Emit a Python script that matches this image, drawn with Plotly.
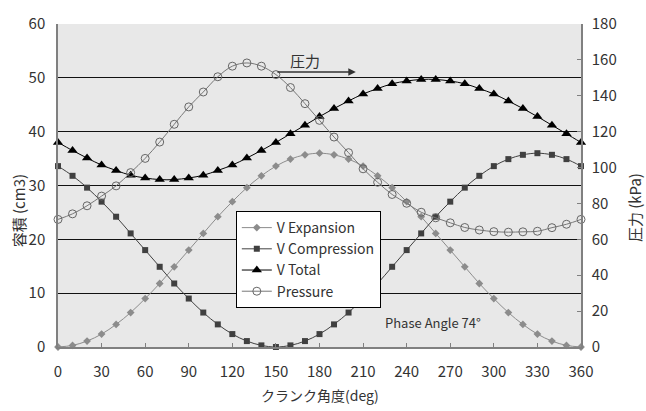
import plotly.graph_objects as go

# Crank angle in degrees, sampled every 10 degrees
crank_deg = list(range(0, 361, 10))

# Expansion-space volume [cm3]
v_expansion = [0.0, 0.3, 1.1, 2.4, 4.2, 6.4, 9.0, 11.8, 14.9, 18.0,
               21.1, 24.2, 27.0, 29.6, 31.8, 33.6, 34.9, 35.7, 36.0, 35.7,
               34.9, 33.6, 31.8, 29.6, 27.0, 24.2, 21.1, 18.0, 14.9, 11.8,
               9.0, 6.4, 4.2, 2.4, 1.1, 0.3, 0.0]

# Compression-space volume [cm3]
v_compression = [33.6, 31.8, 29.6, 27.0, 24.2, 21.1, 18.0, 14.9, 11.8, 9.0,
                 6.4, 4.2, 2.4, 1.1, 0.3, 0.0, 0.3, 1.1, 2.4, 4.2,
                 6.4, 9.0, 11.8, 14.9, 18.0, 21.1, 24.2, 27.0, 29.6, 31.8,
                 33.6, 34.9, 35.7, 36.0, 35.7, 34.9, 33.6]

# Total working volume [cm3]
v_total = [38.0, 36.5, 35.1, 33.8, 32.8, 31.9, 31.4, 31.1, 31.1, 31.4,
           31.9, 32.8, 33.8, 35.1, 36.5, 38.0, 39.6, 41.2, 42.8, 44.3,
           45.7, 47.0, 48.0, 48.9, 49.4, 49.7, 49.7, 49.4, 48.9, 48.0,
           47.0, 45.7, 44.3, 42.8, 41.2, 39.6, 38.0]

# Working-gas pressure [kPa]
pressure_kpa = [71.1, 74.2, 78.7, 84.1, 89.8, 97.2, 105.1, 114.2, 124.1, 133.8,
                142.1, 150.6, 156.5, 158.3, 156.5, 151.8, 144.6, 135.6, 126.3, 117.0,
                108.3, 99.3, 91.8, 85.0, 80.1, 75.1, 72.0, 69.2, 66.6, 65.2,
                64.3, 64.0, 64.2, 64.5, 66.5, 68.4, 71.1]

x_ticks = list(range(0, 361, 30))
phase_label = "Phase Angle 74°"

FONT = "Noto Sans CJK JP, Noto Sans, sans-serif"
TXT = "#333333"

fig = go.Figure()

fig.add_trace(go.Scatter(
    x=crank_deg, y=v_expansion, name="V Expansion", mode="lines+markers",
    line=dict(color="#8c8c8c", width=1, shape="spline"),
    marker=dict(symbol="diamond", size=6, color="#8c8c8c"),
    cliponaxis=False))

fig.add_trace(go.Scatter(
    x=crank_deg, y=v_compression, name="V Compression", mode="lines+markers",
    line=dict(color="#404040", width=1, shape="spline"),
    marker=dict(symbol="square", size=6, color="#404040"),
    cliponaxis=False))

fig.add_trace(go.Scatter(
    x=crank_deg, y=v_total, name="V Total", mode="lines+markers",
    line=dict(color="#000000", width=1, shape="spline"),
    marker=dict(symbol="triangle-up", size=9, color="#000000"),
    cliponaxis=False))

fig.add_trace(go.Scatter(
    x=crank_deg, y=pressure_kpa, name="Pressure", mode="lines+markers",
    yaxis="y2",
    line=dict(color="#777777", width=1, shape="spline"),
    marker=dict(symbol="circle-open", size=8, color="#666666",
                line=dict(width=1, color="#666666")),
    cliponaxis=False))

fig.update_layout(
    width=646, height=411,
    margin=dict(l=58, r=65, t=14, b=64),
    paper_bgcolor="white",
    plot_bgcolor="#e8e8e8",
    font=dict(family=FONT, size=15, color=TXT),
    showlegend=True,
    legend=dict(x=0.34, y=0.421, xanchor="left", yanchor="top",
                bgcolor="white", bordercolor="black", borderwidth=1,
                font=dict(size=14, color=TXT), tracegroupgap=0),
    xaxis=dict(range=[0, 360], tickvals=x_ticks, ticks="inside", ticklen=4,
               tickcolor="#808080", showline=True, linecolor="#808080",
               linewidth=1.5, showgrid=False, zeroline=False,
               ticklabelstandoff=10),
    yaxis=dict(range=[0, 60], dtick=10, ticks="", showline=True,
               linecolor="#808080", linewidth=1.5, showgrid=True,
               gridcolor="#111111", gridwidth=1, zeroline=False,
               ticklabelstandoff=8),
    yaxis2=dict(range=[0, 180], dtick=20, overlaying="y", side="right",
                ticks="inside", ticklen=4, tickcolor="#808080",
                showline=True, linecolor="#808080", linewidth=1.5,
                showgrid=False, zeroline=False, ticklabelstandoff=6),
    annotations=[
        dict(text="クランク角度(deg)", xref="paper", yref="paper",
             x=0.5, y=0, yshift=-48, xanchor="center", yanchor="middle",
             showarrow=False, font=dict(size=14, color=TXT)),
        dict(text="容積 (cm3)", xref="paper", yref="paper", textangle=-90,
             x=0, y=0.42, xshift=-40, xanchor="center", yanchor="middle",
             showarrow=False, font=dict(size=15, color=TXT)),
        dict(text="圧力 (kPa)", xref="paper", yref="paper", textangle=-90,
             x=1, y=0.43, xshift=53, xanchor="center", yanchor="middle",
             showarrow=False, font=dict(size=15, color=TXT)),
        dict(text=phase_label, x=258, y=4.6, xref="x", yref="y",
             showarrow=False, font=dict(size=13, color=TXT)),
        dict(text="圧力", x=170, y=53.2, xref="x", yref="y",
             showarrow=False, font=dict(size=15, color=TXT)),
        dict(x=205, y=51.1, ax=150, ay=51.1, xref="x", yref="y",
             axref="x", ayref="y", text="", showarrow=True,
             arrowhead=2, arrowsize=1, arrowwidth=1.5, arrowcolor="#333333"),
    ],
)

fig.write_html("out.html")
